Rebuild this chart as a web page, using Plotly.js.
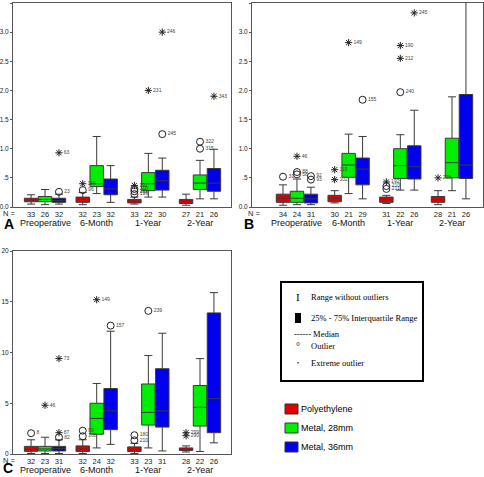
<!DOCTYPE html>
<html><head><meta charset="utf-8">
<script src="https://cdn.plot.ly/plotly-3.0.1.min.js"></script>
<style>html,body{margin:0;padding:0;background:#fff}#chart{width:484px;height:477px}</style>
</head><body><div id="chart"></div>
<script>
// ---------- DATA ----------
const categories = ['Preoperative', '6-Month', '1-Year', '2-Year'];
const groups = ['Polyethylene', 'Metal, 28mm', 'Metal, 36mm'];
const groupColors = ['#e00000', '#00ee00', '#0000ee'];

// order within each array: [cat0: PE, M28, M36, cat1: PE, M28, M36, ...]
// Panel A
const lowA  = [0.05,0.04,0.05, 0.04,0.23,0.08, 0.05,0.17,0.17, 0.03,0.14,0.14];
const q1A   = [0.09,0.09,0.08, 0.08,0.35,0.21, 0.07,0.28,0.29, 0.06,0.30,0.27];
const medA  = [0.12,0.13,0.11, 0.13,0.40,0.31, 0.10,0.40,0.45, 0.10,0.41,0.41];
const q3A   = [0.15,0.18,0.15, 0.17,0.71,0.48, 0.13,0.59,0.63, 0.13,0.55,0.66];
const highA = [0.21,0.30,0.22, 0.25,1.21,0.71, 0.17,0.92,0.84, 0.22,0.80,0.99];
const nA    = [33,26,32, 32,23,32, 33,22,30, 27,21,26];
// Panel B
const lowB  = [0.03,0.04,0.04, 0.07,0.23,0.14, 0.06,0.29,0.29, 0.04,0.28,0.14];
const q1B   = [0.08,0.08,0.07, 0.09,0.51,0.38, 0.08,0.49,0.48, 0.08,0.50,0.49];
const medB  = [0.15,0.15,0.14, 0.15,0.72,0.65, 0.13,0.71,0.69, 0.13,0.76,0.72];
const q3B   = [0.22,0.27,0.22, 0.20,0.92,0.84, 0.17,1.00,1.05, 0.18,1.18,1.93];
const highB = [0.38,0.48,0.34, 0.28,1.25,1.21, 0.20,1.24,1.66, 0.28,1.89,3.80];
const nB    = [34,24,31, 30,21,29, 31,22,26, 28,21,26];
// Panel C
const lowC  = [0.05,0.05,0.05, 0.05,0.60,0.95, 0.05,0.60,0.30, 0.20,0.25,1.10];
const q1C   = [0.26,0.30,0.30, 0.25,1.95,2.40, 0.25,2.85,2.65, 0.35,2.75,2.10];
const medC  = [0.45,0.50,0.55, 0.50,3.50,4.25, 0.45,4.10,4.25, 0.45,4.60,5.45];
const q3C   = [0.75,0.75,0.75, 0.80,5.00,6.45, 0.70,6.90,8.40, 0.60,6.75,13.90];
const highC = [1.40,1.65,1.40, 1.40,6.95,12.10, 1.05,9.70,11.90, 0.80,9.40,15.90];
const nC    = [32,23,31, 32,24,32, 33,23,31, 28,22,26];

// Outliers: category index, group index, value, case label, extreme (1) or not (0)
const outCatA = [0,0,1,1,2,2,2,2,2,2,2,3,3,3];
const outGrpA = [2,2,0,0,0,0,0,0,1,2,2,1,1,2];
const outValA = [0.26,0.93,0.29,0.40,0.22,0.27,0.31,0.37,2.00,1.25,3.00,1.00,1.12,1.90];
const outLblA = ['23','63','96','119','199','211','210','192','231','245','246','315','322','343'];
const outExtA = [0,1,0,1,0,0,0,1,1,0,1,0,0,1];

const outCatB = [0,0,0,0,0,0,1,1,1,1,2,2,2,2,2,2,2,3];
const outGrpB = [0,1,1,1,2,2,0,0,1,2,0,0,0,1,1,1,2,0];
const outValB = [0.52,0.56,0.60,0.87,0.47,0.53,0.47,0.64,2.82,1.84,0.31,0.36,0.43,1.97,2.55,2.77,3.33,0.50];
const outLblB = ['31','58','88','46','93','92','102','119','149','155','211','210','192','240','212','190','245','298'];
const outExtB = [0,0,0,1,0,0,1,1,1,0,0,0,1,0,1,1,1,1];

const outCatC = [0,0,0,0,0,1,1,1,1,2,2,2,3,3];
const outGrpC = [0,1,2,2,2,0,0,1,2,0,0,1,0,0];
const outValC = [2.05,4.8,1.65,2.1,9.4,1.75,2.3,15.2,12.65,1.35,1.85,14.1,1.8,2.1];
const outLblC = ['8','46','82','87','73','108','99','149','157','210','180','239','290','299'];
const outExtC = [0,1,0,1,1,0,0,1,0,0,0,0,1,1];

const yTicksAB = [0, 0.5, 1.0, 1.5, 2.0, 2.5, 3.0, 3.5];
const yTickTextAB = ['0.0', '.5', '1.0', '1.5', '2.0', '2.5', '3.0', '3.5'];
const yTicksC = [0, 5, 10, 15, 20];

// ---------- LAYOUT HELPERS ----------
const W = 484, H = 477;
const px = v => v / W;
const py = v => 1 - v / H;
const GOFF = [-0.27, 0, 0.27];
const pos = (c, g) => c + GOFF[g];
const allPos = [];
for (let c = 0; c < 4; c++) for (let g = 0; g < 3; g++) allPos.push(pos(c, g));

const traces = [];
function addPanel(xa, ya, low, q1, med, q3, high, oc, og, ov, ol, oe) {
  for (let g = 0; g < 3; g++) {
    const idx = [0, 1, 2, 3].map(c => c * 3 + g);
    traces.push({
      type: 'box', xaxis: xa, yaxis: ya, name: groups[g], showlegend: false,
      x: idx.map(i => allPos[i]),
      lowerfence: idx.map(i => low[i]), q1: idx.map(i => q1[i]),
      median: idx.map(i => med[i]), q3: idx.map(i => q3[i]),
      upperfence: idx.map(i => high[i]),
      width: 0.26, whiskerwidth: 0.6, boxpoints: false,
      fillcolor: groupColors[g], line: { color: '#3a3a3a', width: 1 }
    });
  }
  [0, 1].forEach(ext => {
    const ii = oe.map((e, i) => e === ext ? i : -1).filter(i => i >= 0);
    traces.push({
      type: 'scatter', mode: 'markers+text', xaxis: xa, yaxis: ya, showlegend: false,
      x: ii.map(i => pos(oc[i], og[i])), y: ii.map(i => ov[i]),
      text: ii.map(i => ol[i]), textposition: 'middle right',
      textfont: { family: 'Liberation Sans, Arial', size: 5, color: '#444' },
      marker: ext ? { symbol: 'asterisk-open', size: 6, color: '#222', line: { width: 1, color: '#222' } }
                  : { symbol: 'circle-open', size: 7, color: '#222', line: { width: 1, color: '#222' } },
      cliponaxis: false
    });
  });
}
addPanel('x', 'y', lowA, q1A, medA, q3A, highA, outCatA, outGrpA, outValA, outLblA, outExtA);
addPanel('x2', 'y2', lowB, q1B, medB, q3B, highB, outCatB, outGrpB, outValB, outLblB, outExtB);
addPanel('x3', 'y3', lowC, q1C, medC, q3C, highC, outCatC, outGrpC, outValC, outLblC, outExtC);

const fontAx = { family: 'Liberation Sans, Arial', size: 7.5, color: '#222' };
const fontY = { family: 'Liberation Sans, Arial', size: 6.5, color: '#222' };
function xAxis(dom, range, anchor, n) {
  return { domain: dom, range: range, anchor: anchor, showline: true, mirror: true, linecolor: '#555', linewidth: 1,
    showgrid: false, zeroline: false, ticks: '', tickvals: allPos, ticktext: n.map(String), tickfont: fontAx, tickangle: 0 };
}
function yAxis(dom, range, anchor, tv, tt) {
  return { domain: dom, range: range, anchor: anchor, showline: true, mirror: true, linecolor: '#555', linewidth: 1,
    showgrid: false, zeroline: false, ticks: 'outside', ticklen: 2, tickcolor: '#555',
    tickvals: tv, ticktext: tt, tickfont: fontY };
}

const ann = [];
const catFont = { family: 'Liberation Sans, Arial', size: 9, color: '#111' };
[['x', 'y'], ['x2', 'y2'], ['x3', 'y3']].forEach(([xa, ya]) => {
  categories.forEach((c, i) => ann.push({ xref: xa, yref: ya, x: i, y: 0, yshift: -16, yanchor: 'middle',
    text: c, showarrow: false, font: catFont }));
});
const labFont = { family: 'Liberation Sans, Arial', size: 7.5, color: '#222' };
ann.push({ xref: 'paper', yref: 'paper', x: px(1), y: py(213), xanchor: 'left', yanchor: 'middle', text: 'N =', showarrow: false, font: labFont });
ann.push({ xref: 'paper', yref: 'paper', x: px(246), y: py(213), xanchor: 'left', yanchor: 'middle', text: 'N =', showarrow: false, font: labFont });
ann.push({ xref: 'paper', yref: 'paper', x: px(1), y: py(460), xanchor: 'left', yanchor: 'middle', text: 'N =', showarrow: false, font: labFont });
const bigFont = { family: 'Liberation Sans, Arial', size: 14, color: '#000' };
ann.push({ xref: 'paper', yref: 'paper', x: px(2), y: py(224), xanchor: 'left', yanchor: 'middle', text: '<b>A</b>', showarrow: false, font: bigFont });
ann.push({ xref: 'paper', yref: 'paper', x: px(242), y: py(224), xanchor: 'left', yanchor: 'middle', text: '<b>B</b>', showarrow: false, font: bigFont });
ann.push({ xref: 'paper', yref: 'paper', x: px(1), y: py(468), xanchor: 'left', yanchor: 'middle', text: '<b>C</b>', showarrow: false, font: bigFont });

// Key box
const serif = { family: 'Liberation Serif, Times New Roman', size: 8.5, color: '#000' };
const keyRows = [
  ['I', 'Range without outliers', 297, 11],
  ['', '25% - 75% Interquartile Range', 318, 8.5],
  ['', '------ Median', 334, 8.5],
  ['\u00b0', 'Outlier', 346, 10],
  ['\u2022', 'Extreme outlier', 363, 6]
];
keyRows.forEach(([sym, txt, y, sz]) => {
  if (sym) ann.push({ xref: 'paper', yref: 'paper', x: px(298), y: py(y), xanchor: 'center', yanchor: 'middle', text: sym, showarrow: false, font: Object.assign({}, serif, { size: sz }) });
  ann.push({ xref: 'paper', yref: 'paper', x: px(txt.startsWith('---') ? 292 : 309), y: py(y), xanchor: 'left', yanchor: 'middle', text: txt, showarrow: false, font: serif });
});
const shapes = [
  { type: 'rect', xref: 'paper', yref: 'paper', x0: px(281), x1: px(423), y0: py(282), y1: py(381), line: { color: '#000', width: 2 } },
  { type: 'rect', xref: 'paper', yref: 'paper', x0: px(295), x1: px(301), y0: py(313), y1: py(323), fillcolor: '#000', line: { width: 0 } }
];
const legY = [409, 428, 447];
const legFont = { family: 'Liberation Sans, Arial', size: 9, color: '#000' };
groups.forEach((g, i) => {
  shapes.push({ type: 'rect', xref: 'paper', yref: 'paper', x0: px(285), x1: px(298), y0: py(legY[i] - 5), y1: py(legY[i] + 5),
    fillcolor: groupColors[i], line: { color: '#333', width: 1 } });
  ann.push({ xref: 'paper', yref: 'paper', x: px(299), y: py(legY[i]), xanchor: 'left', yanchor: 'middle', text: g, showarrow: false, font: legFont });
});

const layout = {
  width: W, height: H, margin: { l: 0, r: 0, t: 0, b: 0 },
  paper_bgcolor: '#fff', plot_bgcolor: '#fff', showlegend: false, hovermode: false,
  xaxis: xAxis([px(13), px(231)], [-0.62, 3.6], 'y', nA),
  yaxis: yAxis([py(207), py(3)], [0, 3.5], 'x', yTicksAB, yTickTextAB),
  xaxis2: xAxis([px(252), px(483)], [-0.87, 3.6], 'y2', nB),
  yaxis2: yAxis([py(207), py(3)], [0, 3.5], 'x2', yTicksAB, yTickTextAB),
  xaxis3: xAxis([px(13), px(231)], [-0.62, 3.6], 'y3', nC),
  yaxis3: yAxis([py(454), py(251)], [0, 20], 'x3', yTicksC, yTicksC.map(String)),
  annotations: ann, shapes: shapes
};
Plotly.newPlot('chart', traces, layout, { displayModeBar: false, staticPlot: true });
</script></body></html>
